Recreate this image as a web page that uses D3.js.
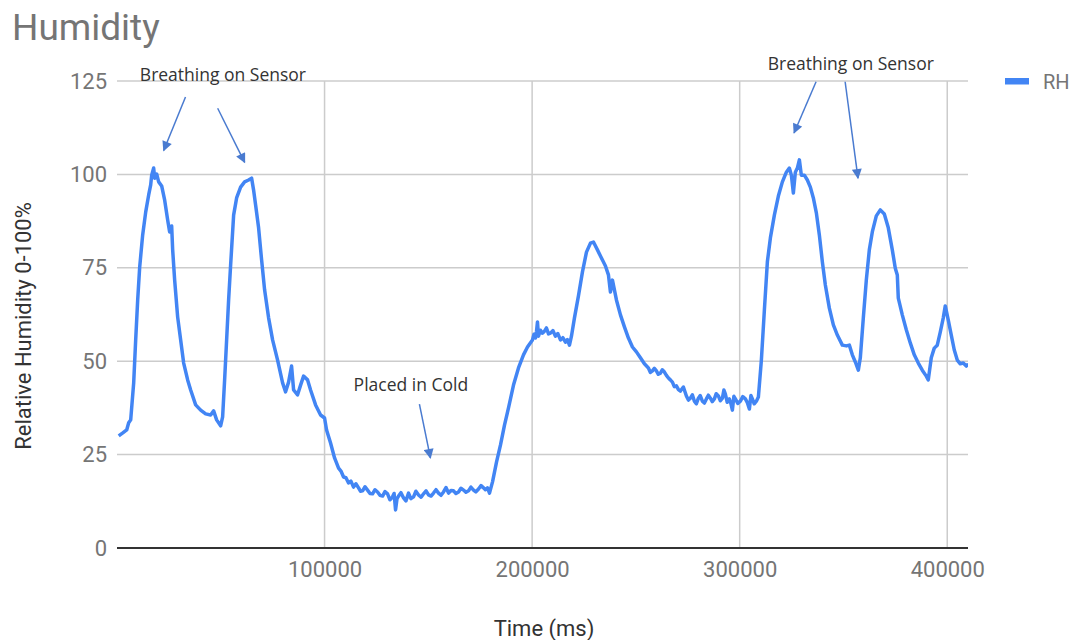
<!DOCTYPE html>
<html>
<head>
<meta charset="utf-8">
<script src="https://cdn.jsdelivr.net/npm/d3@7"></script>
<style>
  html, body { margin: 0; padding: 0; background: #fff; }
  svg { display: block; }
</style>
</head>
<body>
<svg id="chart" width="1078" height="640"></svg>
<script>
// Relative humidity log: [time in ms, RH %]
const readings = [
  [820,30.0],[2790,30.8],[4670,31.6],[5630,33.5],[6600,34.3],[8040,44.2],[9000,55.7],[9970,66.4],
  [10930,75.2],[12370,83.8],[13820,89.9],[15260,94.5],[16230,97.2],[16710,99.8],[17670,101.7],[18150,99.0],
  [19110,100.1],[20080,98.0],[21520,96.9],[22970,93.1],[24410,87.8],[25370,84.6],[26340,86.2],[26820,79.8],
  [27780,71.7],[29230,61.8],[30670,55.7],[32120,49.5],[34040,45.0],[35490,42.3],[37890,38.3],[40300,36.9],
  [42710,35.9],[45110,35.6],[46560,36.7],[48000,34.3],[49930,32.7],[50890,35.1],[51850,45.0],[52820,55.7],
  [53780,66.4],[54740,75.7],[56190,89.1],[57630,93.7],[59560,96.6],[61480,98.0],[63410,98.5],[64850,99.0],
  [65810,95.8],[66780,91.8],[68220,85.7],[69670,77.1],[71110,69.1],[73040,61.6],[74960,55.7],[77370,50.3],
  [79780,44.2],[81220,41.8],[82670,44.4],[84110,48.7],[85080,42.3],[87000,41.0],[88450,43.6],[89890,46.0],
  [91820,45.0],[93260,42.3],[95670,38.3],[98080,35.6],[100000,34.8],[100970,31.6],[102890,28.1],[104820,24.1],
  [106750,21.4],[107900,20.6],[109150,19.0],[110300,18.8],[111560,17.4],[112700,17.9],[113970,16.3],[115100,17.2],
  [116380,16.1],[117300,15.2],[118310,15.3],[119500,16.4],[120710,15.5],[121900,14.6],[123120,14.5],[124300,15.6],
  [125530,15.0],[126700,14.1],[127940,13.9],[129100,15.1],[130350,14.5],[131500,12.9],[132760,13.7],[133500,14.6],
  [134200,10.2],[134900,13.2],[135650,13.9],[136800,14.8],[138060,13.4],[139200,12.6],[140460,14.7],[141600,13.2],
  [142870,13.7],[144000,15.2],[145280,14.2],[146500,13.6],[147690,14.5],[148900,15.3],[150100,14.2],[151300,13.9],
  [152500,14.7],[153700,15.6],[154910,14.7],[156100,14.1],[157320,15.0],[158500,16.2],[159730,14.7],[160900,15.4],
  [162140,15.3],[163300,14.6],[164540,15.0],[165700,16.0],[166950,15.5],[168100,14.9],[169360,15.3],[170500,16.3],
  [171770,15.5],[172900,15.0],[174180,15.8],[175400,16.7],[176580,16.1],[177500,15.6],[178510,16.1],
  [179470,14.7],[180920,17.7],[182840,23.0],[184770,27.6],[186690,32.9],[188620,37.5],[191030,43.6],[193430,48.2],
  [195840,51.7],[197770,53.8],[200170,55.7],[200900,57.2],[201620,56.2],[202100,57.9],[202580,60.5],[203060,56.7],
  [204000,58.3],[204990,57.5],[205900,58.0],[206910,58.9],[207900,57.3],[208840,57.5],[210000,58.2],[211250,56.7],
  [212400,57.4],[213650,55.7],[214800,56.3],[216060,55.1],[217000,55.8],[217990,54.3],
  [218950,56.7],[220400,61.6],[222320,67.5],
  [224250,73.9],[226180,79.2],[228100,81.6],[229550,81.9],[231470,79.8],[233400,77.6],[235330,75.5],[236770,73.1],
  [237730,68.5],[238700,71.7],[240620,66.4],[242550,62.4],[244470,59.2],[246400,56.2],[248330,53.8],[250250,52.5],
  [252180,50.9],[254100,49.3],[256030,48.2],[257000,47.0],[257960,47.4],[258900,48.1],[259880,47.4],[260800,46.5],
  [261810,46.8],[262700,47.7],[263740,47.1],[264700,46.2],[265660,45.5],[266600,45.0],
  [267590,44.4],[268500,43.2],[269520,43.4],[270500,42.4],[271440,42.0],[272880,43.1],
  [274330,40.7],[275300,39.6],[276250,40.1],[277200,41.0],[278180,39.3],[279100,38.6],[280110,40.1],[281000,40.8],
  [282030,39.3],[283000,38.8],[283960,39.9],[284900,40.9],[285890,40.1],[286800,39.2],[287810,39.9],[288700,41.3],
  [289740,40.7],[290700,39.4],[291670,40.1],[292400,42.3],[293110,41.2],[294000,39.0],[295040,39.9],[295800,38.6],
  [296490,36.9],[297200,40.6],[297930,39.9],[299100,38.7],[300340,39.3],[301500,40.5],[302750,39.9],[303700,38.9],
  [304670,37.2],[305400,40.8],[306120,39.9],[307000,38.6],[308040,39.3],[309010,40.4],
  [310450,50.3],[311900,63.7],[313340,76.6],[314790,83.0],[316710,89.1],[318640,94.2],[320570,98.0],[322490,100.6],
  [323930,101.7],[324900,99.8],[325860,95.0],[326820,100.6],[327790,101.7],[328750,103.9],[329710,99.8],[331160,99.8],
  [332600,98.5],[334050,96.6],[335490,93.7],[336940,89.7],[338380,83.8],[339830,76.6],[341270,70.4],[343200,64.2],
  [345130,59.7],[347050,57.0],[349460,54.3],[351390,54.1],[352830,54.3],[354270,51.7],[355720,49.8],[357160,47.6],
  [358120,50.9],[359570,61.6],[361010,71.7],[362460,79.8],[363900,84.6],[365830,88.9],[367750,90.5],[369680,89.4],
  [371600,85.7],[373530,79.8],[374970,74.9],[375940,73.1],[376420,66.9],[378340,62.4],[380270,58.4],[382190,54.9],
  [384120,51.7],[386050,49.5],[387970,47.6],[389900,46.0],[390860,45.0],[392310,50.9],[393750,53.5],[395200,54.3],
  [396640,57.8],[398090,61.6],[399050,64.8],[400500,61.0],[401940,57.0],[403390,53.0],[404830,50.3],[406280,49.3],
  [407720,49.5],[409170,48.7],[410130,49.3]
];

const xTicks = [100000, 200000, 300000, 400000];
const yTicks = [0, 25, 50, 75, 100, 125];

// Callouts: label text with position in data units, and arrows (from -> to) in data units
const callouts = [
  { text: "Breathing on Sensor", t: 11000, rh: 125 },
  { text: "Breathing on Sensor", t: 313500, rh: 127.9 },
  { text: "Placed in Cold", t: 114000, rh: 41.9 }
];
const arrows = [
  [[33000, 120.7], [22500, 106.4]],
  [[48500, 117.7], [61500, 103.2]],
  [[336800, 124.8], [326200, 111.1]],
  [[350800, 124.8], [357000, 99.0]],
  [[145700, 38.5], [151000, 24.1]]
];

(function draw() {
  const svg = d3.select("#chart");
  const plot = { left: 117, right: 968, top: 81, bottom: 548 };

  const x = d3.scaleLinear().domain([0, 410000]).range([plot.left, plot.right]);
  const y = d3.scaleLinear().domain([0, 125]).range([plot.bottom, plot.top]);

  const labelFont = "Roboto, 'Noto Sans', Arial, sans-serif";
  const grey = "#757575";

  // Title
  svg.append("text")
    .attr("x", 12).attr("y", 40)
    .attr("font-family", labelFont).attr("font-size", 37)
    .attr("fill", grey)
    .text("Humidity");

  // Horizontal gridlines
  svg.append("g").selectAll("line").data(yTicks.filter(d => d > 0)).join("line")
    .attr("x1", plot.left).attr("x2", plot.right)
    .attr("y1", d => y(d)).attr("y2", d => y(d))
    .attr("stroke", "#cccccc").attr("stroke-width", 1.5);

  // Vertical gridlines
  svg.append("g").selectAll("line").data(xTicks).join("line")
    .attr("x1", d => x(d)).attr("x2", d => x(d))
    .attr("y1", plot.top).attr("y2", plot.bottom)
    .attr("stroke", "#cccccc").attr("stroke-width", 1.5);

  // Y axis tick labels
  const yAxis = d3.axisLeft(y).tickValues(yTicks).tickSize(0).tickPadding(10);
  const gy = svg.append("g").attr("transform", `translate(${plot.left},0)`).call(yAxis);
  gy.select(".domain").remove();
  gy.selectAll("text")
    .attr("font-family", labelFont).attr("font-size", 22)
    .attr("fill", grey);

  // X axis tick labels
  const xAxis = d3.axisBottom(x).tickValues(xTicks).tickSize(0).tickPadding(13)
    .tickFormat(d3.format("d"));
  const gx = svg.append("g").attr("transform", `translate(0,${plot.bottom})`).call(xAxis);
  gx.select(".domain").remove();
  gx.selectAll("text")
    .attr("font-family", labelFont).attr("font-size", 22)
    .attr("fill", grey);

  // Baseline at zero
  svg.append("line")
    .attr("x1", plot.left).attr("x2", plot.right)
    .attr("y1", y(0)).attr("y2", y(0))
    .attr("stroke", "#333333").attr("stroke-width", 2);

  // Axis titles
  svg.append("text")
    .attr("x", 544).attr("y", 636)
    .attr("text-anchor", "middle")
    .attr("font-family", labelFont).attr("font-size", 22)
    .attr("fill", "#333")
    .text("Time (ms)");

  svg.append("text")
    .attr("transform", "translate(31,326) rotate(-90)")
    .attr("text-anchor", "middle")
    .attr("font-family", labelFont).attr("font-size", 22)
    .attr("fill", "#333")
    .text("Relative Humidity 0-100%");

  // Data line, clipped to the plot area
  const defs = svg.append("defs");
  defs.append("clipPath").attr("id", "plot-clip")
    .append("rect").attr("x", plot.left).attr("y", 0)
    .attr("width", plot.right - plot.left).attr("height", plot.bottom);

  const line = d3.line().x(d => x(d[0])).y(d => y(d[1]));
  svg.append("path")
    .datum(readings)
    .attr("clip-path", "url(#plot-clip)")
    .attr("fill", "none")
    .attr("stroke", "#4285f4")
    .attr("stroke-width", 3.5)
    .attr("stroke-linejoin", "round")
    .attr("d", line);

  // Legend
  svg.append("rect")
    .attr("x", 1005).attr("y", 78).attr("width", 24).attr("height", 6.5)
    .attr("fill", "#4285f4");
  svg.append("text")
    .attr("x", 1043).attr("y", 89)
    .attr("font-family", labelFont).attr("font-size", 20)
    .attr("fill", grey)
    .text("RH");

  // Callout arrows
  defs.append("marker")
    .attr("id", "arrowhead")
    .attr("viewBox", "0 0 10 10")
    .attr("refX", 9).attr("refY", 5)
    .attr("markerUnits", "userSpaceOnUse")
    .attr("markerWidth", 11).attr("markerHeight", 10)
    .attr("orient", "auto")
    .append("path").attr("d", "M0,0 L10,5 L0,10 Z").attr("fill", "#4a7bd0");

  svg.append("g").selectAll("line").data(arrows).join("line")
    .attr("x1", d => x(d[0][0])).attr("y1", d => y(d[0][1]))
    .attr("x2", d => x(d[1][0])).attr("y2", d => y(d[1][1]))
    .attr("stroke", "#4a7bd0").attr("stroke-width", 1.5)
    .attr("marker-end", "url(#arrowhead)");

  // Callout labels
  svg.append("g").selectAll("text").data(callouts).join("text")
    .attr("x", d => x(d.t)).attr("y", d => y(d.rh))
    .attr("font-family", "'Open Sans', 'Noto Sans', sans-serif")
    .attr("font-size", 17.5)
    .attr("font-weight", 500)
    .attr("fill", "#333")
    .text(d => d.text);
})();
</script>
</body>
</html>
